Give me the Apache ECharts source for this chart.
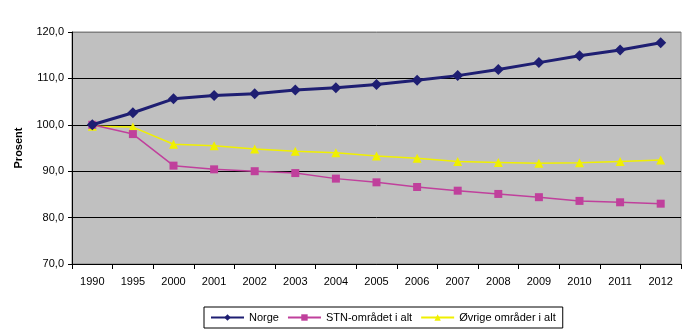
<!DOCTYPE html>
<html>
<head>
<meta charset="utf-8">
<script src="https://cdn.jsdelivr.net/npm/echarts@6/dist/echarts.min.js"></script>
<style>
  html, body { margin: 0; padding: 0; background: #fff; }
  #chart { width: 688px; height: 332px; }
</style>
</head>
<body>
<div id="chart"></div>
<script>
// Index, 1990 = 100
const years = ['1990', '1995', '2000', '2001', '2002', '2003', '2004', '2005', '2006', '2007', '2008', '2009', '2010', '2011', '2012'];
const norge = [100.0, 102.6, 105.6, 106.3, 106.7, 107.5, 108.0, 108.7, 109.6, 110.6, 111.9, 113.4, 114.9, 116.1, 117.7];
const stn = [100.0, 98.0, 91.2, 90.4, 90.0, 89.6, 88.4, 87.6, 86.6, 85.8, 85.1, 84.4, 83.6, 83.3, 83.0];
const ovrige = [99.7, 99.5, 95.8, 95.5, 94.8, 94.3, 94.0, 93.3, 92.8, 92.1, 91.9, 91.7, 91.8, 92.1, 92.4];
const seriesNames = ['Norge', 'STN-området i alt', 'Øvrige områder i alt'];

const font = 'Liberation Sans, Arial, sans-serif';
const chart = echarts.init(document.getElementById('chart'), null, { renderer: 'canvas' });

chart.setOption({
  backgroundColor: '#ffffff',
  animation: false,
  textStyle: { fontFamily: font },
  grid: {
    left: 72, right: 7, top: 32, bottom: 68,
    show: true, backgroundColor: '#c0c0c0', borderColor: '#808080', borderWidth: 1
  },
  legend: {
    bottom: 4, left: 204,
    data: seriesNames,
    borderColor: '#000', borderWidth: 1,
    padding: [5, 7, 5, 6],
    itemGap: 8, itemWidth: 33, itemHeight: 8,
    textStyle: { fontFamily: font, fontSize: 11, color: '#000' }
  },
  xAxis: {
    type: 'category',
    data: years,
    boundaryGap: true,
    axisLine: { show: true, onZero: false, lineStyle: { color: '#000', width: 1 } },
    axisTick: { show: true, length: 5, lineStyle: { color: '#000' } },
    axisLabel: { color: '#000', fontSize: 11, fontFamily: font, margin: 12 },
    splitLine: { show: false }
  },
  yAxis: {
    type: 'value',
    min: 70, max: 120, interval: 10,
    name: 'Prosent',
    nameLocation: 'middle',
    nameRotate: 90,
    nameGap: 48,
    nameTextStyle: { fontWeight: 'bold', fontSize: 11, color: '#000', fontFamily: font },
    axisLine: { show: true, lineStyle: { color: '#000', width: 1 } },
    axisTick: { show: true, length: 4, lineStyle: { color: '#000' } },
    axisLabel: {
      color: '#000', fontSize: 11, fontFamily: font, margin: 8,
      formatter: v => v.toFixed(1).replace('.', ',')
    },
    splitLine: {
      show: true,
      lineStyle: { color: ['#000', '#000', '#000', '#000', '#000', '#808080'], width: 1 }
    }
  },
  series: [
    {
      name: seriesNames[0], type: 'line', data: norge,
      symbol: 'diamond', symbolSize: 11,
      lineStyle: { color: '#1e1e72', width: 3 },
      itemStyle: { color: '#1e1e72' },
      z: 3
    },
    {
      name: seriesNames[1], type: 'line', data: stn,
      symbol: 'rect', symbolSize: 8,
      lineStyle: { color: '#c0409c', width: 1.5 },
      itemStyle: { color: '#c0409c' },
      z: 2
    },
    {
      name: seriesNames[2], type: 'line', data: ovrige,
      symbol: 'triangle', symbolSize: 9,
      lineStyle: { color: '#f0f000', width: 1.5 },
      itemStyle: { color: '#f0f000' },
      z: 1
    }
  ]
});
</script>
</body>
</html>
